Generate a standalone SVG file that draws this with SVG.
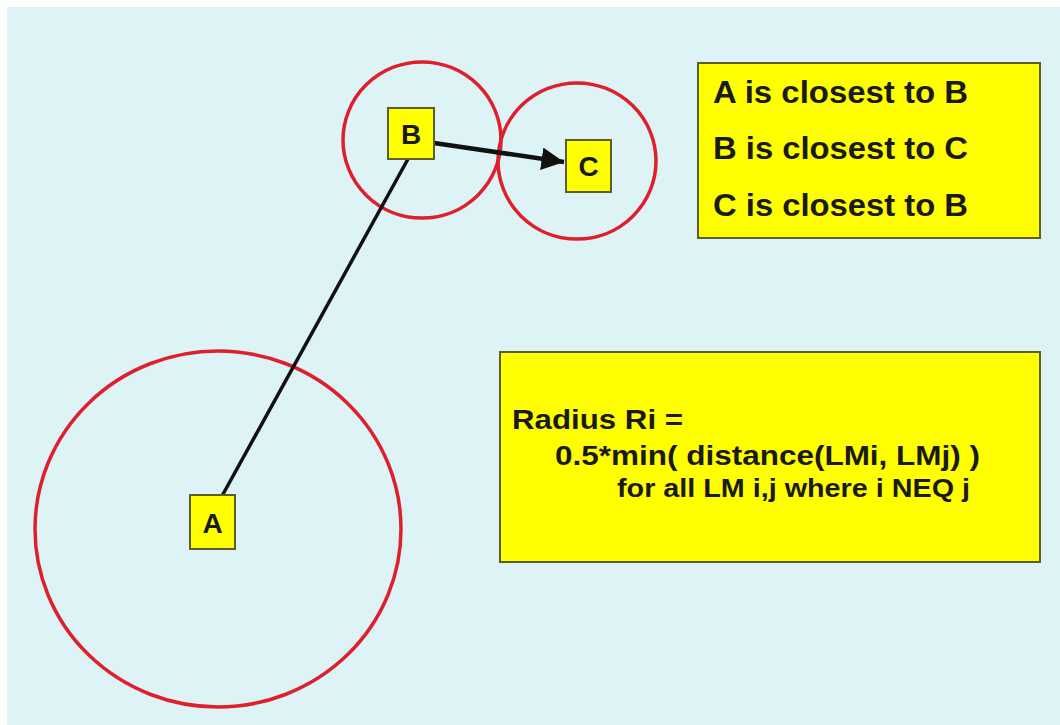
<svg xmlns="http://www.w3.org/2000/svg" width="1060" height="725" viewBox="0 0 1060 725">
<defs>
<style>
.ring{fill:none;stroke:#DE1F2C;stroke-width:3.5}
.node{fill:#FFFF00;stroke:#5E5E2A;stroke-width:2}
.lbl{font-family:"Liberation Sans",Arial,sans-serif;font-weight:bold;fill:#1A1A1A}
.edge{stroke:#111;fill:none}
</style>
<marker id="arr" viewBox="0 0 10 10" refX="10" refY="5" markerWidth="5" markerHeight="5" markerUnits="strokeWidth" orient="auto">
<path d="M0,0 L10,5 L0,10 z" fill="#111"/>
</marker>
</defs>
<rect x="0" y="0" width="1060" height="725" fill="#FFFFFF"/>
<rect x="7" y="7" width="1053" height="718" fill="#DDF3F6"/>
<g id="rings">
<ellipse class="ring" cx="218" cy="529" rx="183" ry="178"/>
<ellipse class="ring" cx="422" cy="140" rx="79" ry="78"/>
<ellipse class="ring" cx="577" cy="161" rx="79" ry="78"/>
</g>
<g id="connectors">
<line class="edge" x1="222" y1="496" x2="408" y2="159" stroke-width="3.5"/>
<line class="edge" x1="434" y1="143" x2="564" y2="162" stroke-width="4.5" marker-end="url(#arr)"/>
</g>
<g id="node-A">
<rect class="node" x="190" y="495" width="45" height="54"/>
<text class="lbl" x="212.5" y="533" font-size="28" text-anchor="middle">A</text>
</g>
<g id="node-B">
<rect class="node" x="388" y="108" width="46" height="51"/>
<text class="lbl" x="411" y="144" font-size="28" text-anchor="middle">B</text>
</g>
<g id="node-C">
<rect class="node" x="566" y="140" width="45" height="52"/>
<text class="lbl" x="588.5" y="176" font-size="28" text-anchor="middle">C</text>
</g>
<g id="box-closest">
<rect class="node" x="698" y="63" width="342" height="175"/>
<text class="lbl" x="713" y="103" font-size="32" textLength="255" lengthAdjust="spacingAndGlyphs">A is closest to B</text>
<text class="lbl" x="713" y="159" font-size="32" textLength="255" lengthAdjust="spacingAndGlyphs">B is closest to C</text>
<text class="lbl" x="713" y="216" font-size="32" textLength="255" lengthAdjust="spacingAndGlyphs">C is closest to B</text>
</g>
<g id="box-radius">
<rect class="node" x="500" y="352" width="540" height="210"/>
<text class="lbl" x="512" y="429" font-size="28" textLength="171" lengthAdjust="spacingAndGlyphs">Radius Ri =</text>
<text class="lbl" x="555" y="465" font-size="28" textLength="425" lengthAdjust="spacingAndGlyphs">0.5*min( distance(LMi, LMj) )</text>
<text class="lbl" x="617" y="497" font-size="26" textLength="353" lengthAdjust="spacingAndGlyphs">for all LM i,j where i NEQ j</text>
</g>
</svg>
